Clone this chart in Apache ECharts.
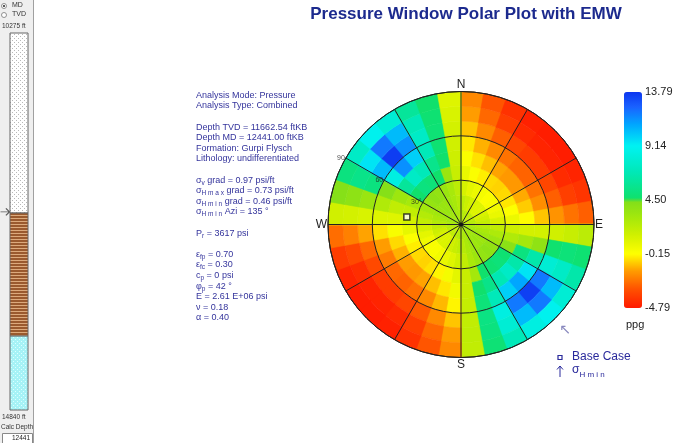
<!DOCTYPE html>
<html>
<head>
<meta charset="utf-8">
<title>Pressure Window Polar Plot with EMW</title>
<script src="https://cdn.jsdelivr.net/npm/echarts@6/dist/echarts.min.js"></script>
<style>
  html, body { margin: 0; padding: 0; background: #fff; }
  #chart { width: 685px; height: 443px; }
</style>
</head>
<body>
<div id="chart"></div>
<script>
  // azimuth bin centres (deg, clockwise from N)
  const azimuth = [5, 15, 25, 35, 45, 55, 65, 75, 85, 95, 105, 115, 125, 135, 145, 155, 165, 175,
    185, 195, 205, 215, 225, 235, 245, 255, 265, 275, 285, 295, 305, 315, 325, 335, 345, 355];
  // inclination ring centres (deg)
  const inclination = [5, 15, 25, 35, 45, 55, 65, 75, 85];
  const AZ_STEP = 10;
  const INC_STEP = 10;

  // EMW pressure window (ppg), one row per azimuth, inner -> outer ring
  const pressureEMW = [
    [2.6, 2.1, 1.3, 0.6, 0.0, -0.5, -1.0, -1.6, -2.0],
    [2.4, 1.7, 0.8, 0.0, -0.6, -1.3, -2.0, -2.7, -3.1],
    [2.2, 1.4, 0.5, -0.4, -1.1, -2.0, -2.9, -3.7, -4.1],
    [2.1, 1.1, 0.2, -0.7, -1.5, -2.5, -3.5, -4.3, -4.6],
    [2.0, 1.0, 0.0, -0.8, -1.7, -2.8, -3.8, -4.5, -4.7],
    [2.0, 1.0, 0.1, -0.7, -1.7, -2.8, -3.8, -4.5, -4.7],
    [2.1, 1.2, 0.3, -0.5, -1.4, -2.5, -3.5, -4.3, -4.5],
    [2.3, 1.5, 0.6, -0.1, -0.9, -1.9, -2.9, -3.7, -4.0],
    [2.5, 1.9, 1.2, 0.5, -0.2, -1.0, -1.8, -2.5, -2.9],
    [2.7, 2.4, 2.0, 1.6, 1.4, 1.4, 1.5, 1.8, 2.2],
    [2.9, 2.8, 2.7, 2.6, 3.0, 3.8, 4.7, 5.0, 4.8],
    [3.0, 3.1, 3.3, 4.0, 5.2, 6.5, 8.0, 7.5, 6.5],
    [3.1, 3.3, 3.7, 4.8, 6.5, 9.5, 12.0, 10.5, 8.0],
    [3.1, 3.4, 3.9, 5.0, 7.5, 11.0, 13.5, 12.0, 9.0],
    [3.0, 3.3, 3.7, 4.8, 6.8, 10.0, 12.0, 10.5, 8.5],
    [2.9, 3.1, 3.3, 4.6, 5.5, 7.0, 8.5, 8.0, 7.0],
    [2.8, 2.8, 2.8, 3.0, 4.6, 5.0, 5.3, 5.2, 4.9],
    [2.7, 2.4, 2.0, 1.8, 1.8, 1.9, 2.0, 2.1, 2.0],
    [2.6, 2.1, 1.5, 0.8, 0.3, -0.3, -1.0, -1.6, -2.0],
    [2.4, 1.8, 1.0, 0.2, -0.5, -1.2, -2.0, -2.7, -3.1],
    [2.2, 1.5, 0.6, -0.3, -1.1, -2.0, -3.0, -3.7, -4.1],
    [2.1, 1.2, 0.3, -0.6, -1.5, -2.5, -3.5, -4.3, -4.6],
    [2.0, 1.1, 0.1, -0.8, -1.7, -2.8, -3.8, -4.5, -4.7],
    [2.0, 1.1, 0.1, -0.7, -1.6, -2.7, -3.8, -4.5, -4.7],
    [2.1, 1.3, 0.4, -0.4, -1.3, -2.3, -3.4, -4.2, -4.5],
    [2.3, 1.6, 0.8, 0.0, -0.7, -1.6, -2.7, -3.4, -3.8],
    [2.5, 2.0, 1.4, 0.7, 0.1, -0.6, -1.5, -2.2, -2.6],
    [2.8, 2.5, 2.0, 1.4, 1.0, 1.0, 1.2, 1.4, 1.5],
    [3.0, 2.8, 2.5, 2.0, 2.0, 2.6, 3.4, 3.9, 4.2],
    [3.1, 3.1, 3.0, 2.9, 3.3, 4.2, 5.2, 5.5, 5.2],
    [3.2, 3.4, 3.6, 4.6, 6.0, 8.5, 10.5, 9.5, 7.5],
    [3.2, 3.5, 3.9, 5.2, 7.5, 11.5, 13.6, 12.0, 9.0],
    [3.1, 3.4, 3.7, 5.0, 7.0, 10.0, 11.5, 10.5, 8.0],
    [3.0, 3.2, 3.4, 4.6, 5.6, 7.0, 7.5, 7.0, 6.0],
    [2.9, 2.9, 2.9, 3.4, 4.6, 4.8, 4.9, 4.8, 4.6],
    [2.7, 2.5, 2.2, 1.8, 1.6, 1.5, 1.4, 1.2, 1.0]
  ];

  const ppgMin = -4.79;
  const ppgMax = 13.79;
  const colorTicks = ['-4.79', '-0.15', '4.50', '9.14', '13.79'];
  const radiusTicks = [30, 60, 90];
  const radiusTickLabels = ['30°', '60', '90'];
  const compassLabels = { 0: 'N', 90: 'E', 180: 'S', 270: 'W' };
  const baseCase = [37, 278]; // [inclination, azimuth]
  const shminAzi = 135;

  // depth column
  const depthTop = 10275;
  const depthBottom = 14840;
  const calcDepth = 12441;
  const layerTop = [10275, 12455, 13945];
  const layerBase = [12455, 13945, 14840];

  const FONT = '"Liberation Sans", Arial, sans-serif';
  const BLUE_TEXT = '#34349c';
  const GRID_LINE = '#222';

  // colour ramp of the colour bar (value -> colour)
  const colorAnchors = [
    [-4.79, '#ff1a00'],
    [-3.2, '#ff5000'],
    [-1.6, '#ff9c00'],
    [-0.15, '#ffff00'],
    [1.5, '#d0f000'],
    [3.0, '#a4e80c'],
    [4.45, '#80de1a'],
    [4.55, '#10e06a'],
    [6.8, '#00e8b4'],
    [9.14, '#00f2f2'],
    [11.0, '#00a6ff'],
    [12.5, '#1a62ff'],
    [13.79, '#0c36f0']
  ];

  function hexToRgb(h) {
    return [parseInt(h.slice(1, 3), 16), parseInt(h.slice(3, 5), 16), parseInt(h.slice(5, 7), 16)];
  }

  function buildColorList() {
    const list = [];
    const n = 187;
    for (let k = 0; k < n; k++) {
      const v = ppgMin + (ppgMax - ppgMin) * k / (n - 1);
      let j = 0;
      while (j < colorAnchors.length - 2 && v > colorAnchors[j + 1][0]) j++;
      const v0 = colorAnchors[j][0], v1 = colorAnchors[j + 1][0];
      const t = Math.min(1, Math.max(0, (v - v0) / (v1 - v0)));
      const a = hexToRgb(colorAnchors[j][1]), b = hexToRgb(colorAnchors[j + 1][1]);
      list.push('rgb(' + a.map((x, i) => Math.round(x + (b[i] - x) * t)).join(',') + ')');
    }
    return list;
  }

  function makePattern(w, h, draw) {
    const c = document.createElement('canvas');
    c.width = w;
    c.height = h;
    draw(c.getContext('2d'));
    return { image: c, repeat: 'repeat' };
  }

  const layerFills = [
    makePattern(4, 4, ctx => {
      ctx.fillStyle = '#ffffff'; ctx.fillRect(0, 0, 4, 4);
      ctx.fillStyle = '#b8b8b8'; ctx.fillRect(0, 0, 1, 1); ctx.fillRect(2, 2, 1, 1);
    }),
    makePattern(4, 3, ctx => {
      ctx.fillStyle = '#9a5a2e'; ctx.fillRect(0, 0, 4, 2);
      ctx.fillStyle = '#dcaa7c'; ctx.fillRect(0, 2, 4, 1);
    }),
    makePattern(4, 4, ctx => {
      ctx.fillStyle = '#a6f2f6'; ctx.fillRect(0, 0, 4, 4);
      ctx.fillStyle = '#dcffff'; ctx.fillRect(1, 1, 1, 1); ctx.fillRect(3, 3, 1, 1);
    })
  ];

  const heatData = [];
  azimuth.forEach((az, i) => {
    inclination.forEach((inc, j) => {
      heatData.push([inc, az, pressureEMW[i][j]]);
    });
  });

  function renderCell(params, api) {
    const cs = params.coordSys;
    const cx = cs.cx, cy = cs.cy;
    const inc = api.value(0), az = api.value(1);
    const pIn = api.coord([inc - INC_STEP / 2, az]);
    const pOut = api.coord([inc + INC_STEP / 2, az]);
    const e0 = api.coord([inc + INC_STEP / 2, az - AZ_STEP / 2]);
    const e1 = api.coord([inc + INC_STEP / 2, az + AZ_STEP / 2]);
    const r0 = Math.hypot(pIn[0] - cx, pIn[1] - cy);
    const r = Math.hypot(pOut[0] - cx, pOut[1] - cy);
    const a0 = Math.atan2(e0[1] - cy, e0[0] - cx);
    let a1 = Math.atan2(e1[1] - cy, e1[0] - cx);
    if (a1 < a0) a1 += Math.PI * 2;
    const color = api.visual('color');
    return {
      type: 'sector',
      shape: { cx: cx, cy: cy, r0: r0, r: r, startAngle: a0 - 0.004, endAngle: a1 + 0.004, clockwise: true },
      style: { fill: color, stroke: color, lineWidth: 0.6 }
    };
  }

  function renderLayer(params, api) {
    const p0 = api.coord([0, api.value(0)]);
    const p1 = api.coord([1, api.value(1)]);
    return {
      type: 'rect',
      shape: { x: p0[0], y: p0[1], width: p1[0] - p0[0], height: p1[1] - p0[1] },
      style: { fill: layerFills[api.value(2)], stroke: '#666', lineWidth: 1 }
    };
  }

  const infoLines = [
    'Analysis Mode: Pressure',
    'Analysis Type: Combined',
    ' ',
    'Depth TVD = 11662.54 ftKB',
    'Depth MD = 12441.00 ftKB',
    'Formation: Gurpi Flysch',
    'Lithology: undifferentiated',
    ' ',
    'σ{s|v} grad = 0.97 psi/ft',
    'σ{s|H m a x} grad = 0.73 psi/ft',
    'σ{s|H m i n} grad = 0.46 psi/ft',
    'σ{s|H m i n} Azi = 135 °',
    ' ',
    'P{s|r} = 3617 psi',
    ' ',
    'ε{s|fp} = 0.70',
    'ε{s|fc} = 0.30',
    'c{s|p} = 0 psi',
    'φ{s|p} = 42 °',
    'E = 2.61 E+06 psi',
    'ν = 0.18',
    'α = 0.40'
  ];

  const myChart = echarts.init(document.getElementById('chart'));

  const option = {
    backgroundColor: '#ffffff',
    animation: false,
    title: {
      text: 'Pressure Window Polar Plot with EMW',
      left: 461,
      top: 1,
      textAlign: 'center',
      textStyle: { fontFamily: FONT, fontSize: 17, fontWeight: 'bold', color: '#1c2a8e' }
    },
    polar: { center: [461, 224.5], radius: 133 },
    angleAxis: {
      type: 'value',
      min: 0,
      max: 360,
      interval: 30,
      startAngle: 90,
      clockwise: true,
      z: 10,
      axisLine: { show: true, lineStyle: { color: GRID_LINE, width: 1 } },
      axisTick: { show: false },
      axisLabel: {
        margin: 1,
        fontFamily: FONT,
        fontSize: 12,
        color: '#222',
        formatter: v => compassLabels[v] || ''
      },
      splitLine: { show: true, lineStyle: { color: GRID_LINE, width: 1 } }
    },
    radiusAxis: {
      type: 'value',
      min: 0,
      max: 90,
      interval: 30,
      z: 10,
      axisLine: { show: false },
      axisTick: { show: false },
      axisLabel: { show: false },
      splitLine: { show: true, lineStyle: { color: GRID_LINE, width: 1 } }
    },
    grid: [
      { left: 10, top: 33, width: 18, height: 377, containLabel: false },
      { left: 624, top: 92, width: 18, height: 216, containLabel: false }
    ],
    xAxis: [
      { gridIndex: 0, type: 'value', min: 0, max: 1, show: false },
      { gridIndex: 1, type: 'value', min: 0, max: 1, show: false }
    ],
    yAxis: [
      { gridIndex: 0, type: 'value', min: depthTop, max: depthBottom, inverse: true, show: false },
      {
        gridIndex: 1,
        type: 'category',
        data: colorTicks,
        boundaryGap: false,
        position: 'right',
        axisLine: { show: false },
        axisTick: { show: false },
        splitLine: { show: false },
        axisLabel: { margin: 3, fontFamily: FONT, fontSize: 11, color: '#222', padding: [4, 0, 0, 0] }
      }
    ],
    visualMap: {
      type: 'continuous',
      seriesIndex: 0,
      dimension: 2,
      min: ppgMin,
      max: ppgMax,
      calculable: false,
      hoverLink: false,
      orient: 'vertical',
      left: 624,
      top: 92,
      padding: 0,
      itemWidth: 18,
      itemHeight: 216,
      text: null,
      inRange: { color: buildColorList() }
    },
    series: [
      {
        name: 'EMW',
        type: 'custom',
        coordinateSystem: 'polar',
        renderItem: renderCell,
        encode: { radius: 0, angle: 1 },
        data: heatData,
        silent: true,
        z: 1
      },
      {
        name: 'ring labels',
        type: 'scatter',
        coordinateSystem: 'polar',
        symbolSize: 0,
        z: 12,
        silent: true,
        data: radiusTicks.map((t, i) => ({ value: [t, 300], name: radiusTickLabels[i] })),
        label: {
          show: true,
          position: 'left',
          distance: 1,
          formatter: p => p.name,
          fontFamily: FONT,
          fontSize: 7,
          color: '#222'
        }
      },
      {
        name: 'Base Case',
        type: 'scatter',
        coordinateSystem: 'polar',
        symbol: 'rect',
        symbolSize: 6,
        z: 12,
        data: [baseCase],
        itemStyle: { color: '#fff', borderColor: '#111', borderWidth: 1.5 }
      },
      {
        name: 'SHmin',
        type: 'scatter',
        coordinateSystem: 'polar',
        symbolSize: 0,
        z: 12,
        silent: true,
        data: [[90, shminAzi]],
        label: {
          show: true,
          position: 'inside',
          offset: [10, 12],
          formatter: '↖',
          fontFamily: '"DejaVu Sans", sans-serif',
          fontSize: 14,
          color: '#6a6aae'
        }
      },
      {
        name: 'centre',
        type: 'scatter',
        coordinateSystem: 'polar',
        symbolSize: 4,
        z: 12,
        data: [[0, 0]],
        itemStyle: { color: '#111' }
      },
      {
        name: 'lithology',
        type: 'custom',
        xAxisIndex: 0,
        yAxisIndex: 0,
        renderItem: renderLayer,
        data: layerTop.map((t, i) => [t, layerBase[i], i]),
        silent: true
      },
      {
        name: 'calc depth',
        type: 'scatter',
        xAxisIndex: 0,
        yAxisIndex: 0,
        symbol: 'path://M0,4 L10,4 M10,4 L6,1 M10,4 L6,7',
        symbolSize: [9, 7],
        symbolOffset: [-5, 0],
        data: [[0, calcDepth]],
        itemStyle: { color: 'transparent', borderColor: '#333', borderWidth: 1 }
      }
    ],
    graphic: [
      // left panel
      { type: 'rect', z: -10, shape: { x: 0, y: 0, width: 33, height: 443 }, style: { fill: '#efefef' } },
      { type: 'line', z: -9, shape: { x1: 33.5, y1: 0, x2: 33.5, y2: 443 }, style: { stroke: '#a0a0a0', lineWidth: 1 } },
      { type: 'circle', shape: { cx: 4, cy: 6, r: 2.5 }, style: { fill: '#fff', stroke: '#777', lineWidth: 0.8 } },
      { type: 'circle', shape: { cx: 4, cy: 6, r: 1 }, style: { fill: '#222' } },
      { type: 'circle', shape: { cx: 4, cy: 15, r: 2.5 }, style: { fill: '#fff', stroke: '#777', lineWidth: 0.8 } },
      { type: 'text', left: 12, top: 2, style: { text: 'MD', font: '7px ' + FONT, fill: '#333' } },
      { type: 'text', left: 12, top: 11, style: { text: 'TVD', font: '7px ' + FONT, fill: '#333' } },
      { type: 'text', left: 2, top: 23, style: { text: depthTop + ' ft', font: '6.5px ' + FONT, fill: '#333' } },
      { type: 'text', left: 2, top: 414, style: { text: depthBottom + ' ft', font: '6.5px ' + FONT, fill: '#333' } },
      { type: 'text', left: 1, top: 424, style: { text: 'Calc Depth', font: '6.5px ' + FONT, fill: '#333' } },
      { type: 'rect', shape: { x: 2.5, y: 433.5, width: 30, height: 10 }, style: { fill: '#fff', stroke: '#888', lineWidth: 1 } },
      { type: 'text', right: 685 - 30, top: 435, style: { text: String(calcDepth), font: '6.5px ' + FONT, fill: '#222', textAlign: 'right' } },
      // analysis info
      {
        type: 'text',
        left: 196,
        top: 90,
        style: {
          text: infoLines.join('\n'),
          font: '9px ' + FONT,
          fill: BLUE_TEXT,
          lineHeight: 10.6,
          rich: {
            s: { fontSize: 6.5, fontFamily: FONT, fill: BLUE_TEXT, lineHeight: 10.6, verticalAlign: 'bottom', padding: [0, 0, -1, 0] }
          }
        }
      },
      // colour bar unit
      { type: 'text', left: 626, top: 319, style: { text: 'ppg', font: '11px ' + FONT, fill: '#222' } },
      // legend
      { type: 'rect', shape: { x: 558, y: 355.5, width: 4, height: 4 }, style: { fill: '#fff', stroke: '#2a2a9c', lineWidth: 1.2 } },
      { type: 'text', left: 572, top: 351, style: { text: 'Base Case', font: '12px ' + FONT, fill: '#2a2a9c' } },
      { type: 'polyline', shape: { points: [[560, 377], [560, 366]] }, style: { stroke: '#2a2a9c', lineWidth: 1 } },
      { type: 'polyline', shape: { points: [[557, 369.5], [560, 366], [563, 369.5]] }, style: { stroke: '#2a2a9c', lineWidth: 1, fill: null } },
      {
        type: 'text',
        left: 572,
        top: 363,
        style: {
          text: 'σ{s|H m i n}',
          font: '12px ' + FONT,
          fill: '#2a2a9c',
          lineHeight: 14,
          rich: { s: { fontSize: 8, fontFamily: FONT, fill: '#2a2a9c', lineHeight: 14, verticalAlign: 'bottom', padding: [0, 0, -2, 0] } }
        }
      }
    ]
  };

  myChart.setOption(option);
  window.addEventListener('resize', () => {
    myChart.resize();
  });
</script>
</body>
</html>
